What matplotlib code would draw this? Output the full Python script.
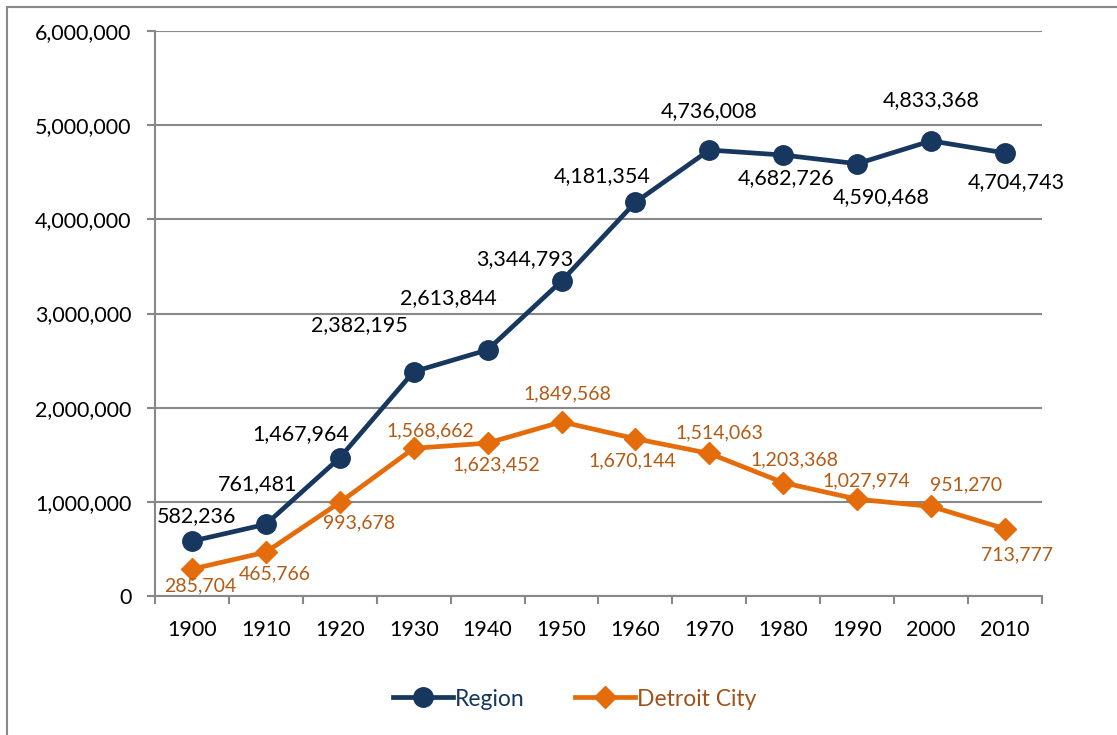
import matplotlib
matplotlib.use("Agg")
import matplotlib.pyplot as plt
from matplotlib.patches import Rectangle
from matplotlib.ticker import FuncFormatter, FixedLocator

plt.rcParams['font.family'] = ['Lato', 'DejaVu Sans']

years = ['1900', '1910', '1920', '1930', '1940', '1950',
         '1960', '1970', '1980', '1990', '2000', '2010']
region = [582236, 761481, 1467964, 2382195, 2613844, 3344793,
          4181354, 4736008, 4682726, 4590468, 4833368, 4704743]
detroit = [285704, 465766, 993678, 1568662, 1623452, 1849568,
           1670144, 1514063, 1203368, 1027974, 951270, 713777]

# label offsets in pixels (dx, dy up)
region_off = [(5, 25), (-8, 40), (-39, 24), (-54, 47), (-39, 52), (-37, 22),
              (-33, 26), (0, 39), (3, -23), (24, -33), (0, 41), (11, -29)]
detroit_off = [(8, -17), (9, -22), (19, -20), (17, 17), (9, -22), (6, 28),
               (-3, -22), (10, 21), (11, 23), (9, 18), (35, 22), (12, -26)]

navy = '#17375E'
orange = '#E46C0A'
orange_txt = '#B35A13'
grid_c = '#888888'

fig = plt.figure(figsize=(11.17, 7.35), dpi=100)
ax = fig.add_axes([155/1117, 139/735, 887/1117, 565/735])

fig.patches.append(Rectangle((7/1117, -0.1), 2, 1.1 - 7/735, transform=fig.transFigure,
                             fill=False, edgecolor='#888888', linewidth=1.5))

x = list(range(len(years)))
ax.plot(x, region, color=navy, lw=3.4, marker='o', ms=14, label='Region', zorder=3)
ax.plot(x, detroit, color=orange, lw=3.4, marker='D', ms=11, label='Detroit City', zorder=3)

for xi, v, (dx, dy) in zip(x, region, region_off):
    ax.annotate(f'{v:,}', (xi, v), xytext=(dx*0.72, dy*0.72), textcoords='offset points',
                ha='center', va='center', fontsize=15.5, color='black')
for xi, v, (dx, dy) in zip(x, detroit, detroit_off):
    ax.annotate(f'{v:,}', (xi, v), xytext=(dx*0.72, dy*0.72), textcoords='offset points',
                ha='center', va='center', fontsize=14, color=orange_txt)

ax.set_xlim(-0.5, len(years) - 0.5)
ax.set_ylim(0, 6000000)
ax.set_yticks(range(0, 6000001, 1000000))
ax.yaxis.set_major_formatter(FuncFormatter(lambda v, p: f'{int(v):,}'))
ax.set_xticks(x)
ax.set_xticklabels(years)
ax.xaxis.set_minor_locator(FixedLocator([i - 0.5 for i in range(len(years) + 1)]))
ax.tick_params(axis='x', which='major', length=0, pad=17, labelsize=15.5)
ax.tick_params(axis='x', which='minor', length=6, width=1.5, color=grid_c, direction='out')
ax.tick_params(axis='y', length=6, width=1.5, color=grid_c, pad=11, labelsize=15.5)

ax.grid(axis='y', color=grid_c, lw=1.5)
ax.set_axisbelow(True)
for s in ['top', 'right']:
    ax.spines[s].set_visible(False)
for s in ['left', 'bottom']:
    ax.spines[s].set_color(grid_c)
    ax.spines[s].set_linewidth(1.5)

leg = fig.legend(loc='center', bbox_to_anchor=(575/1117, 1 - 699/735), ncol=2,
                 frameon=False, fontsize=16.5, handlelength=2.6, handletextpad=0.1,
                 columnspacing=2.2)
for t, c in zip(leg.get_texts(), [navy, '#A0521A']):
    t.set_color(c)

fig.savefig('out.png', dpi=100)
